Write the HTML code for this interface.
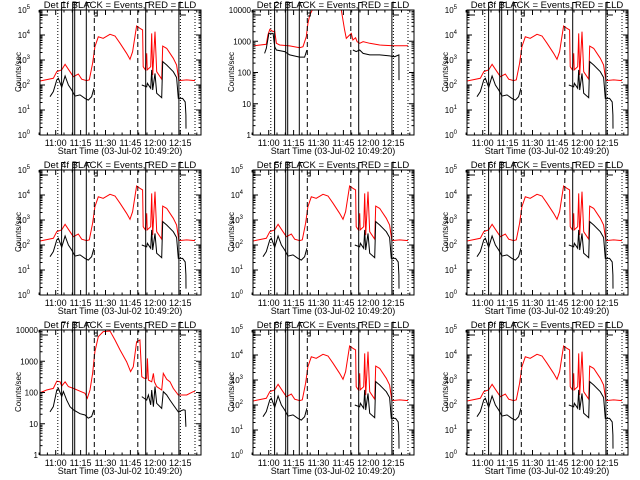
<!DOCTYPE html>
<html><head><meta charset="utf-8"><style>
html,body{margin:0;padding:0;background:#fff;}
svg{display:block;font-family:"Liberation Sans",sans-serif;}
</style></head><body>
<svg id="chart" width="640" height="480" viewBox="0 0 640 480" xmlns="http://www.w3.org/2000/svg"></svg>
<script>
// ---- data (time in minutes after 10:49:20, values in counts/sec) ----
const detectorNames = ["Det 1f","Det 2f","Det 3f","Det 4f","Det 5f","Det 6f","Det 7f","Det 8f","Det 9f"];
const xTickLabels = ["11:00","11:15","11:30","11:45","12:00","12:15"];
const xTickTimes = [10.67,25.67,40.67,55.67,70.67,85.67];
const decadeLabels5 = ["0","1","2","3","4","5"];
const decadeLabels4 = ["1","10","100","1000","10000"];

const redTimesA = [1.2,9.2,11.3,14.3,16.3,19.3,21.3,24.3,26.3,29.3,30.9,32.9,34.3,36.3,39.3,43.4,46.4,49.4,53.4,55.4,57,58.4,59.4,61.4,63,63.4,64.7,65.5,65.8,67.9,68.5,69.1,70.5,71.5,74.5,75.1,77.5,81.5,83.5,84.9,89.6,94.6];
const redValsA = [145,185,340,400,670,340,215,275,170,150,160,740,3400,8500,7400,10700,9100,4700,1850,1070,2150,8500,23000,18500,16000,540,400,1850,400,540,11600,250,13500,340,170,3600,2900,1170,630,150,160,150];
const blackTimesA = [7.2,9.2,11.3,12.3,14.3,16.3,18.3,20.3,22.3,25.3,28.3,30.3,32.3,33.7,null,62.5,65.5,65.9,67.9,68.5,69.1,70.5,71.5,74.5,75.1,77.5,81.5,83.5,84.5,87.1,88.7,89.1,89.15];
const blackValsA = [34,54,160,185,81,230,100,63,36,40,29,25,34,74,null,100,85,117,74,400,63,290,47,31,860,630,340,200,29,29,21,6.3,1.8];

const redTimes2 = [1.2,9.2,10.2,11.3,13.3,14.3,15.3,17.3,23.3,29.3,31.3,33.3,34.3,35.4,36.9,38,54,54.4,56.4,57.4,59.4,60.4,61.4,63,63.9,65.5,67.5,71.5,77.5,85.5,94.6];
const redVals2 = [710,800,1590,2400,2030,2130,860,760,710,620,670,1400,3700,6900,10000,30000,30000,10000,2300,1230,1590,1780,1100,1300,970,860,970,860,760,720,720];
const blackTimes2 = [8.2,9.2,10.8,13.3,14.3,15.3,20.3,23.3,29.3,32.3,33.7,null,61.4,63.4,65.5,67.5,71.5,77.5,83.5,86.5,89.1,89.15];
const blackVals2 = [410,590,1780,1780,670,525,465,365,310,310,525,null,525,465,525,410,365,365,340,320,365,57];

const redTimes7 = [1.2,5.2,9.2,11.3,13.3,14.3,16.3,18.3,21.3,25.3,28.3,29.7,31.3,32.9,34.3,36.3,39.3,43.4,46.4,49.4,53.4,55.8,57.4,59.4,61.4,62.5,63.9,65.5,65.9,66.5,68.5,69.5,70.1,71.5,74.5,75.5,77.5,79.5,81.5,84.5,89.6,93.6,94.6];
const redVals7 = [98,120,135,230,220,160,220,155,135,110,94,65,120,410,2030,6100,8900,9300,4800,2300,970,465,670,4200,4800,320,285,285,1230,250,220,410,220,155,120,410,265,220,135,83,83,107,107];
const blackTimes7 = [7.2,9.2,11.3,12.3,14.3,15.3,17.3,19.3,21.3,25.3,28.3,30.3,32.3,33.7,null,62.5,65.5,66.5,67.9,68.5,69.5,70.5,71.5,74.5,75.5,77.5,79.5,81.5,84.5,87.6,88.7,89.1];
const blackVals7 = [24,35,120,135,74,107,57,35,28,21,19,15,17,28,null,74,57,83,40,120,35,155,45,31,107,83,57,40,24,28,27,8];

const solidMarkerTimes = [14.2,20.9,22.1,29.1,64.9,84.9];
const dashedMarkerTimes = [33.9,60.1];
const dottedMarkerTimes = [11.9,85.8,94.6];
</script>
<script>
const NS="http://www.w3.org/2000/svg";
const svg=document.getElementById('chart');
function mk(tag,attrs,parent){const e=document.createElementNS(NS,tag);for(const k in attrs)e.setAttribute(k,attrs[k]);(parent||svg).appendChild(e);return e;}
const L=40,R=201,T=10,B=135,T0=38,PX=1.66,TMAX=(R-T0)/PX;
const panelData=[
 [redTimesA,redValsA,blackTimesA,blackValsA,5],
 [redTimes2,redVals2,blackTimes2,blackVals2,4],
 [redTimesA,redValsA,blackTimesA,blackValsA,5],
 [redTimesA,redValsA,blackTimesA,blackValsA,5],
 [redTimesA,redValsA,blackTimesA,blackValsA,5],
 [redTimesA,redValsA,blackTimesA,blackValsA,5],
 [redTimes7,redVals7,blackTimes7,blackVals7,4],
 [redTimesA,redValsA,blackTimesA,blackValsA,5],
 [redTimesA,redValsA,blackTimesA,blackValsA,5]];
for(let p=0;p<9;p++){
 const col=p%3,row=Math.floor(p/3);
 const ox=Math.round(col*213.33),oy=row*160;
 const [rt,rv,bt,bv,dec]=panelData[p];
 const xs=t=>T0+t*PX;
 const ys=v=>B-(Math.log10(v))*(B-T)/dec;
 const g=mk('g',{transform:`translate(${ox},${oy})`});
 
 
 const cid='clip'+p;
 const cp=mk('clipPath',{id:cid},g);mk('rect',{x:L,y:T,width:R-L,height:B-T},cp);
 // series
 function path(ts,vs,color,name){
  let d='',pen=false;
  for(let i=0;i<ts.length;i++){
   if(ts[i]===null){pen=false;continue;}
   d+=(pen?'L':'M')+xs(ts[i]).toFixed(1)+' '+ys(vs[i]).toFixed(1)+' ';pen=true;}
  const e=mk('path',{d:d,fill:'none',stroke:color,'stroke-width':1,'clip-path':`url(#${cid})`},g);
  
  
 }
 path(rt,rv,'#ff0000','lld-series');
 path(bt,bv,'#000','events-series');
 // marker lines
 solidMarkerTimes.forEach(t=>{const x=xs(t).toFixed(1);
  const e=mk('line',{x1:x,x2:x,y1:2,y2:B,stroke:'#000','stroke-width':1},g);
  
  mk('line',{x1:x,x2:+x+4,y1:2.5,y2:2.5,stroke:'#000','stroke-width':1},g);});
 dashedMarkerTimes.forEach(t=>{const x=xs(t).toFixed(1);
  const e=mk('line',{x1:x,x2:x,y1:T,y2:B,stroke:'#000','stroke-width':1,'stroke-dasharray':'5,3'},g);
  });
 dottedMarkerTimes.forEach(t=>{const x=xs(t).toFixed(1);
  const e=mk('line',{x1:x,x2:x,y1:T,y2:B,stroke:'#000','stroke-width':1,'stroke-dasharray':'1,2'},g);
  });
 mk('path',{d:`M${L} 15 H${L+8} M${xs(84.9)+1} 15 H${xs(84.9)+7} M${xs(33.9)} 13 h3 v3 h-3`,stroke:'#000',fill:'none','stroke-width':1},g);
 // box
 const bx=mk('rect',{x:L,y:T,width:R-L,height:B-T,fill:'none',stroke:'#000','stroke-width':1},g);
 
 // x ticks
 let tk='';
 for(let m=0;m*5<=TMAX+11;m++){const t=0.67+m*5;if(t>TMAX)break;const x=xs(t);const len=(m%3==2)?5:2.5;
  tk+=`M${x.toFixed(1)} ${B}v-${len}M${x.toFixed(1)} ${T}v${len}`;}
 // y ticks
 for(let d=0;d<=dec;d++){for(let k=1;k<10;k++){const v=Math.pow(10,d)*k;if(Math.log10(v)>dec)break;const y=ys(v).toFixed(1);const len=k==1?5:2.5;
  tk+=`M${L} ${y}h${len}M${R} ${y}h-${len}`;}}
 mk('path',{d:tk,stroke:'#000','stroke-width':1,fill:'none'},g);
 xTickLabels.forEach((s,i)=>{const e=mk('text',{x:xs(xTickTimes[i]),y:146,'font-size':9,'text-anchor':'middle'},g);e.textContent=s;
  });
 if(dec==5){decadeLabels5.forEach((s,i)=>{const y=ys(Math.pow(10,i));const e=mk('text',{x:L-10,y:y+3,'font-size':8,'text-anchor':'end'},g);
  e.innerHTML='10<tspan dy="-4" font-size="6">'+s+'</tspan>';
  });}
 else{decadeLabels4.forEach((s,i)=>{const y=ys(Math.pow(10,i));const e=mk('text',{x:L-2,y:y+3,'font-size':8,'text-anchor':'end'},g);e.textContent=s;
  });}
 const tt=mk('text',{x:120,y:8,'font-size':9.5,'text-anchor':'middle'},g);
 tt.textContent=detectorNames[p]+' BLACK = Events, RED = LLD';
 
 const xl=mk('text',{x:120,y:154,'font-size':9,'text-anchor':'middle'},g);
 xl.textContent='Start Time (03-Jul-02 10:49:20)';
 
 const yl=mk('text',{x:0,y:0,'font-size':8,'text-anchor':'middle',transform:'translate(21,72) rotate(-90)'},g);
 yl.textContent='Counts/sec';
 
}
</script>
</body></html>
